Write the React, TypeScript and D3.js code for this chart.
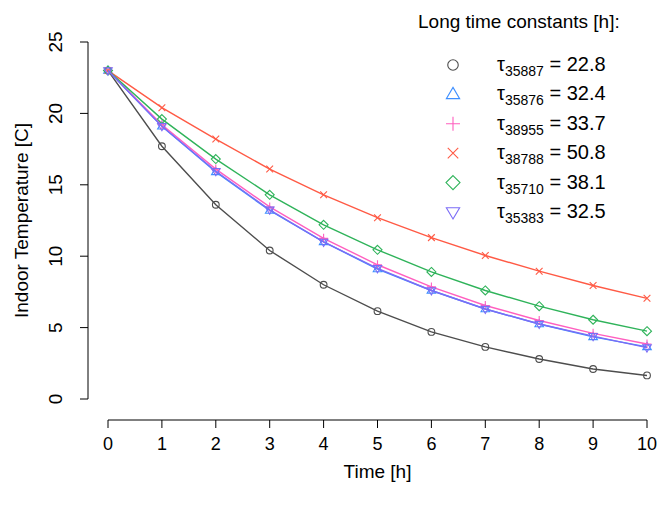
import React, { useEffect, useRef } from 'react';
import * as d3 from 'd3';

const hours = [0, 1, 2, 3, 4, 5, 6, 7, 8, 9, 10];
const yTicks = [0, 5, 10, 15, 20, 25];
const ids = ['35887', '35876', '38955', '38788', '35710', '35383'];
const taus = ['22.8', '32.4', '33.7', '50.8', '38.1', '32.5'];
const colors = ['#4d4d4d', '#3f8fff', '#ff5fbf', '#ff5a45', '#2fb35a', '#7b6cf6'];
const shapes = ['circle', 'triUp', 'plus', 'cross', 'diamond', 'triDown'];
const s35887 = [23, 17.7, 13.6, 10.4, 8.0, 6.15, 4.7, 3.65, 2.8, 2.1, 1.65];
const s35876 = [23, 19.1, 15.9, 13.2, 11.0, 9.1, 7.6, 6.3, 5.25, 4.35, 3.65];
const s38955 = [23, 19.2, 16.1, 13.45, 11.25, 9.4, 7.85, 6.55, 5.5, 4.6, 3.85];
const s38788 = [23, 20.4, 18.2, 16.1, 14.3, 12.7, 11.3, 10.05, 8.95, 7.95, 7.05];
const s35710 = [23, 19.6, 16.8, 14.3, 12.2, 10.45, 8.9, 7.6, 6.5, 5.55, 4.75];
const s35383 = [23, 19.1, 15.95, 13.25, 11.0, 9.15, 7.6, 6.3, 5.25, 4.4, 3.6];
const series = [s35887, s35876, s38955, s38788, s35710, s35383];

function drawSymbol(g: any, shape: string, x: number, y: number, color: string, r: number) {
  if (shape === 'circle') {
    g.append('circle').attr('cx', x).attr('cy', y).attr('r', r * 0.75).attr('fill', 'none').attr('stroke', color).attr('stroke-width', 1.1);
    return;
  }
  let d = '';
  if (shape === 'triUp') d = `M${x},${y - r}L${x + r * 0.95},${y + r * 0.6}L${x - r * 0.95},${y + r * 0.6}Z`;
  if (shape === 'triDown') d = `M${x},${y + r}L${x + r * 0.95},${y - r * 0.6}L${x - r * 0.95},${y - r * 0.6}Z`;
  if (shape === 'plus') d = `M${x - r},${y}H${x + r}M${x},${y - r}V${y + r}`;
  if (shape === 'cross') d = `M${x - r * 0.75},${y - r * 0.75}L${x + r * 0.75},${y + r * 0.75}M${x - r * 0.75},${y + r * 0.75}L${x + r * 0.75},${y - r * 0.75}`;
  if (shape === 'diamond') d = `M${x},${y - r}L${x + r},${y}L${x},${y + r}L${x - r},${y}Z`;
  g.append('path').attr('d', d).attr('fill', 'none').attr('stroke', color).attr('stroke-width', 1.1);
}

export default function App() {
  const ref = useRef<SVGSVGElement>(null);
  useEffect(() => {
    const svg = d3.select(ref.current);
    svg.selectAll('*').remove();
    const x = d3.scaleLinear().domain([0, 10]).range([108, 647]);
    const y = d3.scaleLinear().domain([0, 25]).range([399, 42]);
    const font = 'Arial, "Liberation Sans", sans-serif';

    svg.append('line').attr('x1', 88).attr('x2', 88).attr('y1', y(0)).attr('y2', y(25)).attr('stroke', '#000');
    yTicks.forEach(t => {
      svg.append('line').attr('x1', 80).attr('x2', 88).attr('y1', y(t)).attr('y2', y(t)).attr('stroke', '#000');
      svg.append('text').attr('transform', `translate(62,${y(t)}) rotate(-90)`).attr('text-anchor', 'middle')
        .attr('font-family', font).attr('font-size', 19).text(t);
    });
    svg.append('line').attr('x1', x(0)).attr('x2', x(10)).attr('y1', 420).attr('y2', 420).attr('stroke', '#000');
    hours.forEach(t => {
      svg.append('line').attr('x1', x(t)).attr('x2', x(t)).attr('y1', 420).attr('y2', 428).attr('stroke', '#000');
      svg.append('text').attr('x', x(t)).attr('y', 450).attr('text-anchor', 'middle')
        .attr('font-family', font).attr('font-size', 18).text(t);
    });
    svg.append('text').attr('x', x(5)).attr('y', 478).attr('text-anchor', 'middle')
      .attr('font-family', font).attr('font-size', 19).text('Time [h]');
    svg.append('text').attr('transform', `translate(28,${y(12.5)}) rotate(-90)`).attr('text-anchor', 'middle')
      .attr('font-family', font).attr('font-size', 19).text('Indoor Temperature [C]');

    const line = d3.line<number>().x((_, i) => x(hours[i])).y(d => y(d));
    series.forEach((s, k) => {
      svg.append('path').attr('d', line(s)).attr('fill', 'none').attr('stroke', colors[k]).attr('stroke-width', 1.4);
      s.forEach((v, i) => drawSymbol(svg, shapes[k], x(hours[i]), y(v), colors[k], 4.5));
    });

    svg.append('text').attr('x', 418).attr('y', 28).attr('font-family', font).attr('font-size', 19)
      .text('Long time constants [h]:');
    ids.forEach((id, k) => {
      const ly = 71 + k * 29.4;
      drawSymbol(svg, shapes[k], 453, ly - 6, colors[k], 7);
      const t = svg.append('text').attr('x', 497).attr('y', ly).attr('font-family', font).attr('font-size', 20);
      t.append('tspan').text('τ');
      t.append('tspan').attr('font-size', 14).attr('dy', 5).text(id);
      t.append('tspan').attr('dy', -5).text(` = ${taus[k]}`);
    });
  }, []);
  return <svg ref={ref} width={665} height={515} style={{ display: 'block', margin: '-8px' }} />;
}
